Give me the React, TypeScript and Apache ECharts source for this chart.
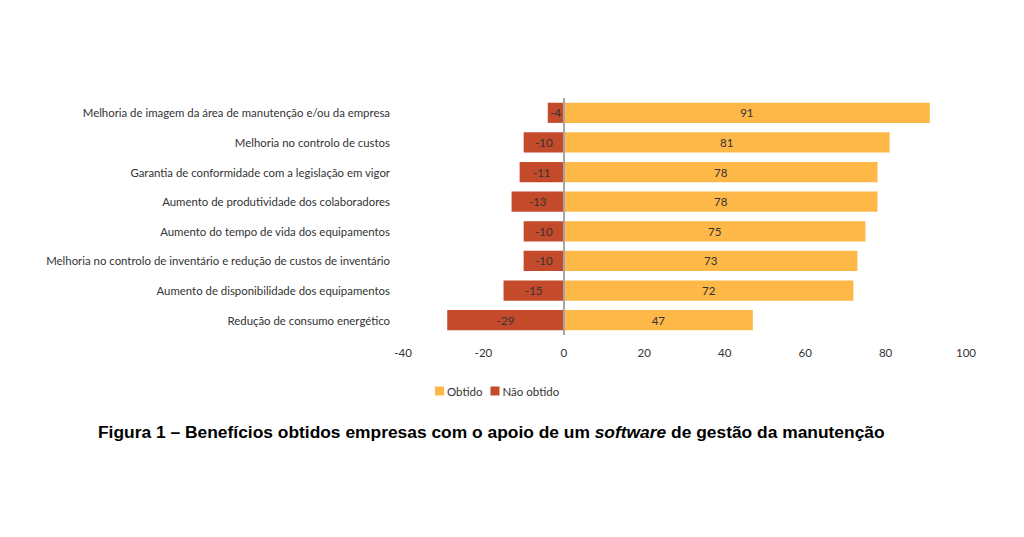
import React, { useEffect, useRef } from "react";
import * as echarts from "echarts";

const categories = [
  "Melhoria de imagem da área de manutenção e/ou da empresa",
  "Melhoria no controlo de custos",
  "Garantia de conformidade com a legislação em vigor",
  "Aumento de produtividade dos colaboradores",
  "Aumento do tempo de vida dos equipamentos",
  "Melhoria no controlo de inventário e redução de custos de inventário",
  "Aumento de disponibilidade dos equipamentos",
  "Redução de consumo energético",
];
const obtido = [91, 81, 78, 78, 75, 73, 72, 47];
const naoObtido = [-4, -10, -11, -13, -10, -10, -15, -29];
const seriesNames = ["Obtido", "Não obtido"];
const xTicks = { min: -40, max: 100, interval: 20 };
const titleParts = [
  "Figura 1 – Benefícios obtidos empresas com o apoio de um ",
  "software",
  " de gestão da manutenção",
];

export default function App() {
  const ref = useRef<HTMLDivElement>(null);
  useEffect(() => {
    document.body.style.margin = "0";
    const chart = echarts.init(ref.current!, null, { renderer: "svg" });
    const font = "Lato, 'Open Sans', sans-serif";
    const titleFont = "'Liberation Sans', Arial, sans-serif";
    chart.setOption({
      animation: false,
      backgroundColor: "#ffffff",
      textStyle: { fontFamily: font },
      grid: { left: 403, right: 58, top: 98, bottom: 202, containLabel: false },
      legend: {
        data: seriesNames,
        left: 430,
        top: 380,
        itemWidth: 9,
        itemHeight: 9,
        itemGap: 8,
        icon: "rect",
        textStyle: { fontSize: 11.5, color: "#333", fontFamily: font, padding: [0, 0, 0, -2] },
      },
      xAxis: {
        type: "value",
        min: xTicks.min,
        max: xTicks.max,
        interval: xTicks.interval,
        axisLine: { show: false },
        axisTick: { show: false },
        splitLine: { show: false },
        axisLabel: { fontSize: 11.5, color: "#333", margin: 11, fontFamily: font },
      },
      yAxis: {
        type: "category",
        data: categories,
        inverse: true,
        axisLine: { show: false },
        axisTick: { show: false },
        axisLabel: { fontSize: 11.4, color: "#333", margin: 13, fontFamily: font },
      },
      series: [
        {
          name: seriesNames[0],
          type: "bar",
          stack: "total",
          data: obtido,
          barCategoryGap: "32%",
          itemStyle: { color: "#FDB848" },
          label: { show: true, position: "inside", color: "#333", fontSize: 11.5, fontFamily: font },
          markLine: {
            silent: true,
            symbol: "none",
            label: { show: false },
            lineStyle: { color: "#A6A6A6", width: 2, type: "solid" },
            data: [{ xAxis: 0 }],
          },
        },
        {
          name: seriesNames[1],
          type: "bar",
          stack: "total",
          data: naoObtido,
          itemStyle: { color: "#C34A2A" },
          label: { show: true, position: "inside", color: "#333", fontSize: 11.5, fontFamily: font },
        },
      ],
      color: ["#FDB848", "#D9512B"],
      graphic: [
        {
          type: "text",
          left: 98,
          top: 423,
          style: {
            text: `{b|${titleParts[0]}}{i|${titleParts[1]}}{b|${titleParts[2]}}`,
            rich: {
              b: { fontFamily: titleFont, fontWeight: "bold", fontSize: 17.4, fill: "#000" },
              i: { fontFamily: titleFont, fontWeight: "bold", fontStyle: "italic", fontSize: 17.4, fill: "#000" },
            },
          },
        },
      ],
    });
    return () => chart.dispose();
  }, []);
  return <div ref={ref} style={{ width: 1024, height: 537 }} />;
}
